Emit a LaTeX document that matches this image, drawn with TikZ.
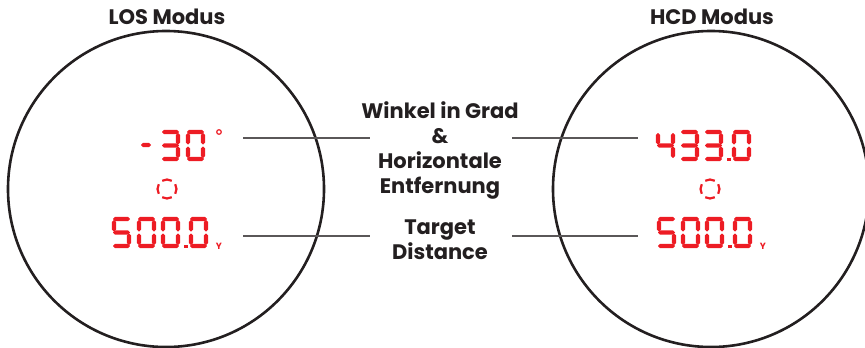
\documentclass[tikz,border=0pt]{standalone}
\usepackage{fontspec}
\setmainfont{Poppins}
\usetikzlibrary{positioning, calc}
\definecolor{lcdred}{HTML}{ED1C24}
\definecolor{ink}{HTML}{231F20}
\tikzset{
    scope/.style = {draw=ink, line width=2.6pt},
    lbl/.style = {font=\bfseries\fontsize{21}{25}\selectfont, text=ink, align=center, inner sep=0pt},
    lead/.style = {draw=ink!75, line width=1.4pt},
    lcd/.style = {fill=lcdred},
    cross/.style = {draw=lcdred, line width=2.2pt},
    unit/.style = {text=lcdred, font=\bfseries\fontsize{9}{9}\selectfont, inner sep=0pt}
}
% seven segment digit: #1 x, #2 y (top left), #3 rows of bars, #4 col/half of posts
\newcommand{\lcddigit}[4]{%
  \foreach \r in {#3} {%
    \pgfmathsetmacro{\cy}{#2+2+\r*13.5}
    \fill[lcd] (#1+1,\cy) -- (#1+3,\cy-2.2) -- (#1+16,\cy-2.2) -- (#1+18,\cy)
      -- (#1+16,\cy+2.2) -- (#1+3,\cy+2.2) -- cycle;
  }
  \foreach \c/\hh in {#4} {%
    \pgfmathsetmacro{\cx}{#1+2+\c*15}
    \pgfmathsetmacro{\ya}{#2+3+\hh*13.5}
    \pgfmathsetmacro{\yb}{#2+14.5+\hh*13.5}
    \fill[lcd] (\cx,\ya) -- (\cx+2.2,\ya+2) -- (\cx+2.2,\yb-2) -- (\cx,\yb)
      -- (\cx-2.2,\yb-2) -- (\cx-2.2,\ya+2) -- cycle;
  }
}
\newcommand{\lcdzero}[2]{\lcddigit{#1}{#2}{0,2}{0/0,0/1,1/0,1/1}}
\newcommand{\lcdthree}[2]{\lcddigit{#1}{#2}{0,1,2}{1/0,1/1}}
\newcommand{\lcdfour}[2]{\lcddigit{#1}{#2}{1}{0/0,1/0,1/1}}
\newcommand{\lcdfive}[2]{\lcddigit{#1}{#2}{0,1,2}{0/0,1/1}}
\newcommand{\lcddot}[2]{\fill[lcd] (#1,#2) rectangle ++(3.5,-3.5);}

\begin{document}
\begin{tikzpicture}[x=1pt, y=-1pt]
\useasboundingbox (0,0) rectangle (865,348);
\clip (0,0) rectangle (865,348);

% Scopes
\draw[scope] (166,189) circle (158);
\draw[scope] (711,189) circle (158);
\node[lbl] (los) at (167,17) {LOS Modus};
\node[lbl] (hcd) at (712,17) {HCD Modus};

% Centre labels
\node[lbl] (angle) at (440,150) {Winkel in Grad\\\&\\Horizontale\\Entfernung};
\node[lbl] (dist) at (440,240) {Target\\Distance};

% Leader lines
\coordinate (losA) at (243,138);
\coordinate (losD) at (243,236);
\coordinate (hcdA) at (638,138);
\coordinate (hcdD) at (638,236);
\coordinate (angL) at (370,138);
\coordinate (angR) at (512,138);
\coordinate (distL) at (370,236);
\coordinate (distR) at (512,236);
\draw[lead] (losA) -- (angL);
\draw[lead] (angR) -- (hcdA);
\draw[lead] (losD) -- (distL);
\draw[lead] (distR) -- (hcdD);

% LOS readout
\fill[lcd] (141,145) -- (143,142.8) -- (149,142.8) -- (151,145) -- (149,147.2) -- (143,147.2) -- cycle;
\lcdthree{161}{130}
\lcdzero{186}{130}
\draw[lcdred, line width=1.2pt] (219,132) circle (2.3);
\draw[cross] (167,189) ++(30:9.5) arc (30:-30:9.5);
\draw[cross] (167,189) ++(60:9.5) arc (60:120:9.5);
\draw[cross] (167,189) ++(150:9.5) arc (150:210:9.5);
\draw[cross] (167,189) ++(240:9.5) arc (240:300:9.5);
\lcdfive{112}{217}
\lcdzero{137}{217}
\lcdzero{161}{217}
\lcddot{184}{248}
\lcdzero{189}{217}
\node[unit] (losY) at (219,246) {Y};

% HCD readout
\lcdfour{656}{130}
\lcdthree{680}{130}
\lcdthree{704}{130}
\lcddot{727}{161}
\lcdzero{732}{130}
\draw[cross] (710,189) ++(30:9.5) arc (30:-30:9.5);
\draw[cross] (710,189) ++(60:9.5) arc (60:120:9.5);
\draw[cross] (710,189) ++(150:9.5) arc (150:210:9.5);
\draw[cross] (710,189) ++(240:9.5) arc (240:300:9.5);
\lcdfive{657}{217}
\lcdzero{681}{217}
\lcdzero{705}{217}
\lcddot{728}{248}
\lcdzero{733}{217}
\node[unit] (hcdY) at (763,246) {Y};
\end{tikzpicture}
\end{document}
